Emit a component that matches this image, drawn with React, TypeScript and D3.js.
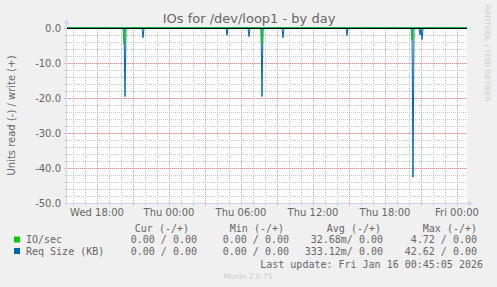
import React from "react";
import * as d3 from "d3";

// ---- data ----
const title = "IOs for /dev/loop1 - by day";
const yAxisLabel = "Units read (-) / write (+)";
const timeStart = new Date(2026, 0, 14, 15, 30);
const timeEnd = new Date(2026, 0, 16, 0, 50);
const yDomain = [-50, 0];
const yTickValues = [0, -10, -20, -30, -40, -50];
const yTickLabels = ["0.0", "-10.0", "-20.0", "-30.0", "-40.0", "-50.0"];

// read (-) spikes: [time, value]
const ioReadSpikes: [Date, number][] = [
  [new Date(2026, 0, 14, 20, 15), 4.72],
  [new Date(2026, 0, 15, 7, 45), 4.6],
  [new Date(2026, 0, 15, 20, 15), 3.4],
];
const reqSizeReadSpikes: [Date, number][] = [
  [new Date(2026, 0, 14, 20, 20), 19.6],
  [new Date(2026, 0, 14, 21, 50), 2.8],
  [new Date(2026, 0, 15, 4, 50), 2.1],
  [new Date(2026, 0, 15, 6, 40), 2.5],
  [new Date(2026, 0, 15, 7, 45), 19.6],
  [new Date(2026, 0, 15, 9, 30), 2.8],
  [new Date(2026, 0, 15, 14, 50), 2.2],
  [new Date(2026, 0, 15, 20, 20), 42.62],
  [new Date(2026, 0, 15, 20, 55), 2.0],
  [new Date(2026, 0, 15, 21, 5), 3.3],
];
// write (+) values are all zero
const ioWriteValue = 0;
const reqSizeWriteValue = 0;

const legendNames = ["IO/sec", "Req Size (KB)"];
const legendColors = ["#00CC00", "#0066B3"];
const legendHeaders = ["Cur (-/+)", "Min (-/+)", "Avg (-/+)", "Max (-/+)"];
const curValues = ["0.00 / 0.00", "0.00 / 0.00"];
const minValues = ["0.00 / 0.00", "0.00 / 0.00"];
const avgValues = ["32.68m/ 0.00", "333.12m/ 0.00"];
const maxValues = ["4.72 / 0.00", "42.62 / 0.00"];
const lastUpdate = "Last update: Fri Jan 16 00:45:05 2026";
const rrdCredit = "RRDTOOL / TOBI OETIKER";
const muninVersion = "Munin 2.0.75";

// ---- layout ----
const W = 497;
const H = 287;
const L = 67;
const R = 467;
const T = 28;
const B = 203;
const FONT = "'DejaVu Sans', sans-serif";
const MONO = "'DejaVu Sans Mono', monospace";
const FONT_COLOR = "#666666";

function buildSeries(spikes: [Date, number][], sign: number) {
  const times = d3.timeMinute.every(5)!.range(timeStart, new Date(+timeEnd + 1));
  const lookup = new Map(spikes.map(([t, v]) => [+t, v]));
  return times.map((t) => ({ t, v: sign * (lookup.get(+t) ?? 0) }));
}

export default function App() {
  const x = d3.scaleTime().domain([timeStart, timeEnd]).range([L, R]);
  const y = d3.scaleLinear().domain(yDomain).range([B, T]);

  const minorX = d3.timeHour.every(1)!.range(timeStart, timeEnd);
  const majorX = d3.timeHour.every(3)!.range(timeStart, timeEnd);
  const labelX = d3.timeHour.every(6)!.range(timeStart, timeEnd);
  const minorY = d3.range(yDomain[0], yDomain[1] + 0.001, 2);
  const fmt = d3.timeFormat("%a %H:%M");

  const line = d3
    .line<{ t: Date; v: number }>()
    .x((d) => x(d.t))
    .y((d) => y(d.v));

  const ioRead = buildSeries(ioReadSpikes, -1);
  const reqRead = buildSeries(reqSizeReadSpikes, -1);
  const ioWrite = buildSeries([], 1).map((d) => ({ ...d, v: ioWriteValue }));
  const reqWrite = buildSeries([], 1).map((d) => ({ ...d, v: reqSizeWriteValue }));

  const colEnds = [197, 289, 383, 477];
  const headEnds = [189, 284, 381, 477];
  const rowY = [243, 254.5];
  const px = (v: number) => Math.round(v) + 0.5;

  return (
    <svg
      width={W}
      height={H}
      style={{ position: "absolute", left: 0, top: 0 }}
      xmlns="http://www.w3.org/2000/svg"
    >
      <rect x={0} y={0} width={W} height={H} fill="#F0F0F0" />
      <rect x={L} y={T} width={R - L} height={B - T} fill="#FFFFFF" />

      {/* minor grid */}
      <g stroke="#c8c8c8" strokeWidth={1} strokeDasharray="1 1" shapeRendering="crispEdges">
        {minorX.map((t, i) => (
          <line key={"mx" + i} x1={px(x(t))} x2={px(x(t))} y1={T} y2={B + 2} />
        ))}
        {minorY.map((v, i) => (
          <line key={"my" + i} x1={L - 2} x2={R} y1={px(y(v))} y2={px(y(v))} />
        ))}
      </g>
      {/* major grid */}
      <g stroke="#f09a9a" strokeWidth={1} strokeDasharray="1 1" shapeRendering="crispEdges">
        {majorX.map((t, i) => (
          <line key={"Mx" + i} x1={px(x(t))} x2={px(x(t))} y1={T} y2={B + 3} />
        ))}
        {yTickValues.map((v, i) => (
          <line key={"My" + i} x1={L - 3} x2={R} y1={px(y(v))} y2={px(y(v))} />
        ))}
      </g>

      {/* axes */}
      <path
        d={`M${L - 0.5},${B + 3}V${T - 5}M${L - 3},${B + 0.5}H${R + 2}`}
        fill="none"
        stroke="#CFD6F8"
        strokeWidth={1}
      />
      <path d={`M${L - 3.5},${T - 4} L${L + 2.5},${T - 4} L${L - 0.5},${T - 9} Z`} fill="#CFD6F8" />
      <path d={`M${R + 1},${B - 2.5} L${R + 1},${B + 3.5} L${R + 6},${B + 0.5} Z`} fill="#CFD6F8" />

      {/* series */}
      <g fill="none" strokeWidth={1}>
        <path d={line(reqRead) ?? ""} stroke={legendColors[1]} />
        <path d={line(ioRead) ?? ""} stroke={legendColors[0]} />
        <path d={line(reqWrite) ?? ""} stroke={legendColors[1]} />
        <path d={line(ioWrite) ?? ""} stroke={legendColors[0]} />
      </g>
      {/* zero rule */}
      <path d={`M${L},${px(y(0))}H${R}`} stroke="#000" strokeWidth={1} fill="none" />

      {/* y tick labels */}
      <g fontFamily={FONT} fontSize={10} fill={FONT_COLOR} textAnchor="end">
        {yTickValues.map((v, i) => (
          <text key={"yl" + i} x={61} y={y(v) + 3.5}>
            {yTickLabels[i]}
          </text>
        ))}
      </g>
      {/* x tick labels */}
      <g fontFamily={FONT} fontSize={10} fill={FONT_COLOR} textAnchor="middle">
        {labelX.map((t, i) => (
          <text key={"xl" + i} x={x(t)} y={216}>
            {fmt(t)}
          </text>
        ))}
      </g>

      {/* title */}
      <text x={249} y={23} textAnchor="middle" fontFamily={FONT} fontSize={13} fill={FONT_COLOR}>
        {title}
      </text>
      {/* y axis label */}
      <text
        transform={`translate(15,${(T + B) / 2}) rotate(-90)`}
        textAnchor="middle"
        fontFamily={FONT}
        fontSize={10}
        fill={FONT_COLOR}
      >
        {yAxisLabel}
      </text>
      {/* rrdtool credit */}
      <text
        transform={`translate(485,5) rotate(90)`}
        textAnchor="start"
        fontFamily={FONT}
        fontSize={7.5}
        fill="#cccccc"
      >
        {rrdCredit}
      </text>

      {/* legend */}
      <g fontFamily={MONO} fontSize={10} fill={FONT_COLOR} style={{ whiteSpace: "pre" }}>
        {legendHeaders.map((h, i) => (
          <text key={"h" + i} x={headEnds[i]} y={231.5} textAnchor="end">
            {h}
          </text>
        ))}
        {legendNames.map((name, r) => (
          <g key={"row" + r}>
            <rect x={14} y={rowY[r] - 6.5} width={6} height={6} fill={legendColors[r]} />
            <text x={26} y={rowY[r]}>
              {name}
            </text>
            <text x={colEnds[0]} y={rowY[r]} textAnchor="end">{curValues[r]}</text>
            <text x={colEnds[1]} y={rowY[r]} textAnchor="end">{minValues[r]}</text>
            <text x={colEnds[2]} y={rowY[r]} textAnchor="end">{avgValues[r]}</text>
            <text x={colEnds[3]} y={rowY[r]} textAnchor="end">{maxValues[r]}</text>
          </g>
        ))}
        <text x={483} y={267.5} textAnchor="end">
          {lastUpdate}
        </text>
      </g>
      <text x={248} y={279} textAnchor="middle" fontFamily={FONT} fontSize={7.5} fill="#cccccc">
        {muninVersion}
      </text>
    </svg>
  );
}
